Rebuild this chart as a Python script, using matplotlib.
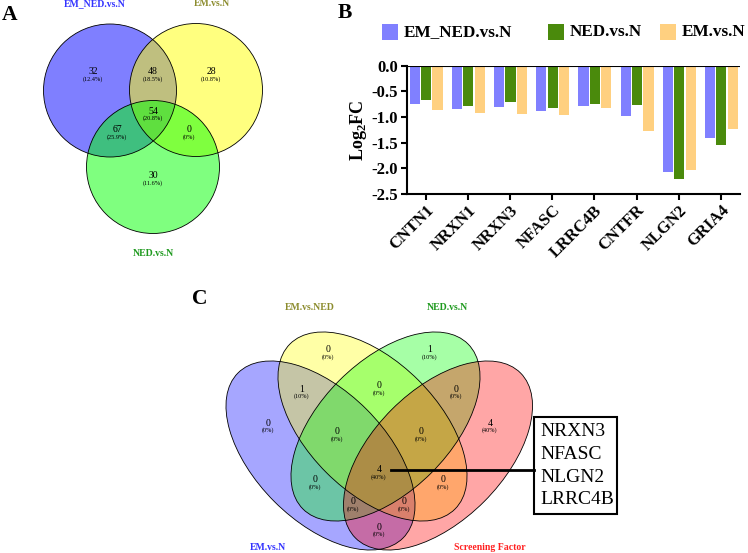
import matplotlib
matplotlib.use('Agg')
import matplotlib.pyplot as plt
from matplotlib.patches import Circle, Ellipse, Rectangle
import numpy as np

plt.rcParams['font.family'] = 'serif'
plt.rcParams['font.serif'] = ['Liberation Serif', 'DejaVu Serif']
plt.rcParams['mathtext.fontset'] = 'custom'
plt.rcParams['mathtext.rm'] = 'Liberation Serif'
plt.rcParams['mathtext.bf'] = 'Liberation Serif:bold'

# ---- panel A data (3-set venn) ----
venn3_sets = ['EM_NED.vs.N', 'EM.vs.N', 'NED.vs.N']
venn3_counts = [32, 48, 28, 54, 67, 0, 30]
venn3_pcts = ['12.4%', '18.5%', '10.8%', '20.8%', '25.9%', '0%', '11.6%']

# ---- panel B data (log2FC bars) ----
genes = ['CNTN1', 'NRXN1', 'NRXN3', 'NFASC', 'LRRC4B', 'CNTFR', 'NLGN2', 'GRIA4']
series = ['EM_NED.vs.N', 'NED.vs.N', 'EM.vs.N']
fc_em_ned = [-0.75, -0.85, -0.80, -0.89, -0.78, -0.98, -2.07, -1.40]
fc_ned = [-0.67, -0.79, -0.70, -0.83, -0.75, -0.77, -2.21, -1.55]
fc_em = [-0.86, -0.93, -0.95, -0.97, -0.82, -1.28, -2.03, -1.23]

# ---- panel C data (4-set venn) ----
venn4_sets = ['EM.vs.N', 'EM.vs.NED', 'NED.vs.N', 'Screening Factor']
venn4_counts = [0, 1, 0, 1, 0, 0, 4, 0, 0, 0, 4, 0, 0, 0, 0]
venn4_pcts = ['0%', '10%', '0%', '10%', '0%', '0%', '40%', '0%', '0%',
              '0%', '40%', '0%', '0%', '0%', '0%']
shared_genes = ['NRXN3', 'NFASC', 'NLGN2', 'LRRC4B']

W, H = 748, 553
fig = plt.figure(figsize=(W / 100, H / 100), dpi=100)

# overlay axes in pixel coords for the venns and panel letters
ov = fig.add_axes([0, 0, 1, 1])
ov.set_xlim(0, W)
ov.set_ylim(H, 0)
ov.axis('off')

# panel letters
for letter, (lx, ly) in zip('ABC', [(10, 14.5), (345, 13), (199.5, 299)]):
    ov.text(lx, ly, letter, fontsize=15.5, fontweight='bold', ha='center', va='center')

# ---------------- panel A ----------------
c3_centers = [(110, 90.5), (196, 90), (153, 167)]
c3_r = 66.5
c3_colors = ['#0000ff', '#ffff00', '#00ff00']
c3_text_colors = ['#3333ff', '#8c8c2e', '#1f9a1f']
for (cx, cy), col in zip(c3_centers, c3_colors):
    ov.add_patch(Circle((cx, cy), c3_r, facecolor=col, alpha=0.5, edgecolor='none'))
for (cx, cy) in c3_centers:
    ov.add_patch(Circle((cx, cy), c3_r, facecolor='none', edgecolor='black', lw=0.6))

c3_label_pos = [(95, 4), (212, 4), (153, 253)]
for name, (tx, ty), tc in zip(venn3_sets, c3_label_pos, c3_text_colors):
    ov.text(tx, ty, name, color=tc, fontsize=7, fontweight='bold', ha='center', va='center')

c3_region_pos = [(93, 75), (153, 75), (211, 75), (153, 114), (117, 133), (189, 133), (153, 179)]
for n, p, (rx, ry) in zip(venn3_counts, venn3_pcts, c3_region_pos):
    ov.text(rx, ry - 3, str(n), fontsize=7, ha='center', va='center')
    ov.text(rx, ry + 4.5, '(' + p + ')', fontsize=4.5, ha='center', va='center')

# ---------------- panel C ----------------
e_a, e_b = 116.7, 65.2
e_centers = [(320.5, 455.5), (372.5, 426.5), (385.5, 426.5), (438, 455.5)]
e_angles = [45, 45, -45, -45]
e_colors = ['#0000ff', '#ffff00', '#00ff00', '#ff0000']
e_text_colors = ['#3333ff', '#8c8c2e', '#1f9a1f', '#ff2020']
for (cx, cy), ang, col in zip(e_centers, e_angles, e_colors):
    ov.add_patch(Ellipse((cx, cy), 2 * e_a, 2 * e_b, angle=ang,
                         facecolor=col, alpha=0.35, edgecolor='none'))
for (cx, cy), ang in zip(e_centers, e_angles):
    ov.add_patch(Ellipse((cx, cy), 2 * e_a, 2 * e_b, angle=ang,
                         facecolor='none', edgecolor='black', lw=0.6))

e_label_pos = [(268, 547), (310, 307), (447, 307), (490, 547)]
for name, (tx, ty), tc in zip(venn4_sets, e_label_pos, e_text_colors):
    ov.text(tx, ty, name, color=tc, fontsize=7, fontweight='bold', ha='center', va='center')

e_region_pos = [(328, 353), (430, 353), (268, 426), (302, 392), (379, 389), (456, 392),
                (490, 426), (337, 435), (421, 435), (315, 483), (379, 473), (443, 483),
                (353, 505), (404, 505), (379, 530)]
for n, p, (rx, ry) in zip(venn4_counts, venn4_pcts, e_region_pos):
    ov.text(rx, ry - 3, str(n), fontsize=7, ha='center', va='center')
    ov.text(rx, ry + 4.5, '(' + p + ')', fontsize=4.5, ha='center', va='center')

# callout box with the shared genes
ov.plot([391, 534], [470, 470], color='black', lw=2)
ov.add_patch(Rectangle((534.5, 417), 83, 96.5, facecolor='white', edgecolor='black', lw=1.5))
for i, g in enumerate(shared_genes):
    ov.text(540, 432 + i * 22.5, g, fontsize=14, ha='left', va='center')

# ---------------- panel B ----------------
ax = fig.add_axes([406.7 / W, 1 - 194 / H, (740 - 406.7) / W, (194 - 65.7) / H])
bar_colors = ['#8080ff', '#4a8a0c', '#ffd080']
x = np.arange(len(genes))
offsets = [-0.26, 0.01, 0.28]
width = 0.24
for vals, off, col in zip([fc_em_ned, fc_ned, fc_em], offsets, bar_colors):
    ax.bar(x + off, vals, width, color=col)
ax.axhline(0, color='black', lw=1.5, zorder=3)
ax.set_xlim(-0.45, 7.45)
ax.set_ylim(-2.5, 0)
ax.set_yticks(np.arange(-2.5, 0.01, 0.5))
ax.set_yticklabels([f'{v:.1f}' for v in np.arange(-2.5, 0.01, 0.5)],
                   fontsize=12, fontweight='bold')
ax.set_xticks(x)
ax.set_xticklabels(genes, rotation=45, ha='right', rotation_mode='anchor',
                   fontsize=12, fontweight='bold')
ax.spines['top'].set_visible(False)
ax.spines['right'].set_visible(False)
ax.spines['left'].set_linewidth(1.5)
ax.spines['bottom'].set_linewidth(1.5)
ax.tick_params(axis='both', direction='out', width=1.5, length=4, pad=2)
ax.set_ylabel(r'Log$_\mathbf{2}$FC', fontsize=13, fontweight='bold', labelpad=2)

# legend row above the bars
leg_x = [382, 548, 660]
for name, col, lx in zip(series, bar_colors, leg_x):
    ov.add_patch(Rectangle((lx, 24), 16, 16, facecolor=col, edgecolor='none'))
    ov.text(lx + 22, 32.5, name, fontsize=12.3, fontweight='bold', ha='left', va='center')

fig.savefig('out.png', dpi=100)
